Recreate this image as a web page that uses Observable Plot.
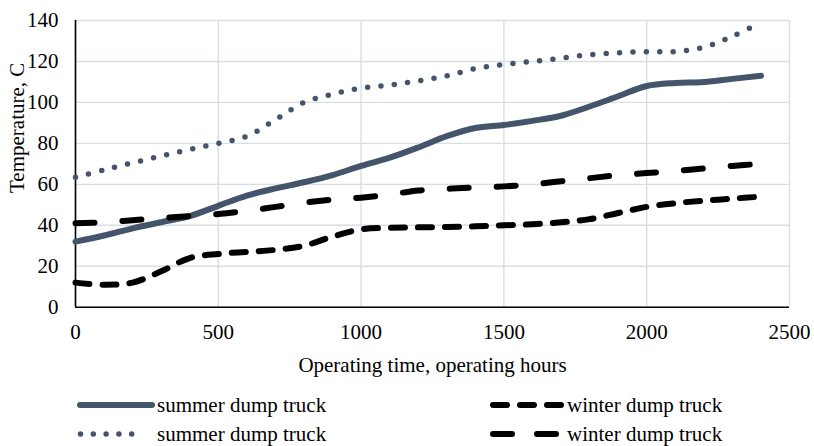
<!DOCTYPE html>
<html>
<head>
<meta charset="utf-8">
<script src="https://cdn.jsdelivr.net/npm/d3@7"></script>
<script src="https://cdn.jsdelivr.net/npm/@observablehq/plot@0.6"></script>
<style>
  html, body { margin: 0; padding: 0; background: #fff; }
  #wrap { position: relative; width: 814px; height: 446px; overflow: hidden; font-family: "Liberation Serif", "Times New Roman", serif; }
  #legend { position: absolute; left: 0; top: 380px; }
</style>
</head>
<body>
<div id="wrap"><div id="chart"></div><svg id="legend" width="814" height="66"></svg></div>
<script>
// ---- data ----
const hours = [0,100,200,300,400,500,600,700,800,900,1000,1100,1200,1300,1400,1500,1600,1700,1800,1900,2000,2100,2200,2300,2400];
const summerSolid  = [32,35,38.5,41.5,44.5,49.5,54.5,58,61,64.5,69,73,78,83.5,87.5,89,91,93.5,98,103,108,109.5,110,111.5,113];
const summerDotted = [63.5,67,70.5,73.8,77,80,83.5,91.5,100,104,107,108.5,110.5,113,116.5,118.5,120,121.6,123.3,124.2,124.8,124.8,127,132.3,139];
const winterShort  = [12,11,12,17.5,24,26,27,28,30,34.5,38,38.8,39,39.2,39.5,40,40.5,41.5,43,46,49,50.8,52,53,54];
const winterLong   = [41,41.5,42.5,43.5,44.5,45.5,47,49,51,52.5,53.5,55,57,57.8,58.5,59,60,61.5,63,64.5,65.5,66.5,67.8,69,70];
const seriesNames  = ["summer dump truck","summer dump truck","winter dump truck","winter dump truck"];
const xTicks = [0,500,1000,1500,2000,2500];
const yTicks = [0,20,40,60,80,100,120,140];
const xLabel = "Operating time, operating hours";
const yLabel = "Temperature, C";

const styles = [
  {values: summerSolid,  stroke: "#44546a", width: 6,   dash: null},
  {values: summerDotted, stroke: "#44546a", width: 5.5, dash: "0 13.4"},
  {values: winterShort,  stroke: "#000000", width: 6,   dash: "14 13"},
  {values: winterLong,   stroke: "#000000", width: 6,   dash: "19 28"}
];
const toRows = vals => hours.map((h, i) => ({h, v: vals[i]}));

const gridColor = "#d9dde4";
const chart = Plot.plot({
  width: 814,
  height: 380,
  marginTop: 20,
  marginLeft: 75,
  marginRight: 25,
  marginBottom: 73.3,
  style: {fontFamily: "Liberation Serif, Times New Roman, serif", fontSize: "21px", color: "#000", background: "#fff"},
  x: {domain: [0, 2500]},
  y: {domain: [0, 140]},
  marks: [
    Plot.gridX(xTicks, {stroke: gridColor, strokeOpacity: 1, strokeWidth: 1.4}),
    Plot.gridY(yTicks, {stroke: gridColor, strokeOpacity: 1, strokeWidth: 1.4}),
    Plot.axisX(xTicks, {tickSize: 0, tickPadding: 17, label: null, fontSize: 21, tickFormat: d => String(d)}),
    Plot.axisY(yTicks, {tickSize: 0, tickPadding: 17, label: null, fontSize: 21, tickFormat: d => String(d)}),
    Plot.ruleY([0], {stroke: "#000", strokeWidth: 1.6}),
    Plot.ruleX([0], {stroke: "#000", strokeWidth: 1.6}),
    ...styles.map(s => Plot.line(toRows(s.values), {
      x: "h", y: "v", curve: "catmull-rom",
      stroke: s.stroke, strokeWidth: s.width, strokeLinecap: "round", strokeLinejoin: "round",
      strokeDasharray: s.dash
    })),
    Plot.text([xLabel], {frameAnchor: "bottom", dy: 58, lineAnchor: "middle", textAnchor: "middle", fontSize: 21, fill: "#000"}),
    Plot.text([yLabel], {frameAnchor: "left", dx: -58, dy: -36, rotate: -90, textAnchor: "middle", lineAnchor: "middle", fontSize: 21, fill: "#000"})
  ]
});
document.getElementById("chart").appendChild(chart);

// ---- legend ----
const legend = d3.select("#legend");
const legendItems = [
  {s: styles[0], name: seriesNames[0], x0: 80,  x1: 152, y: 25, tx: 157},
  {s: styles[1], name: seriesNames[1], x0: 80.5,x1: 136, y: 54, tx: 157},
  {s: styles[2], name: seriesNames[2], x0: 493, x1: 563, y: 25, tx: 567},
  {s: styles[3], name: seriesNames[3], x0: 493, x1: 563, y: 54, tx: 567}
];
const legendDash = ["", "0 12.8", "14 13", "19 25"];
legendItems.forEach((it, i) => {
  legend.append("line")
    .attr("x1", it.x0).attr("x2", it.x1).attr("y1", it.y).attr("y2", it.y)
    .attr("stroke", it.s.stroke).attr("stroke-width", it.s.width)
    .attr("stroke-linecap", "round")
    .attr("stroke-dasharray", legendDash[i] || null);
  legend.append("text")
    .attr("x", it.tx).attr("y", it.y + 7)
    .attr("font-family", "Liberation Serif, Times New Roman, serif")
    .attr("font-size", 21).attr("fill", "#000")
    .text(it.name);
});
</script>
</body>
</html>
